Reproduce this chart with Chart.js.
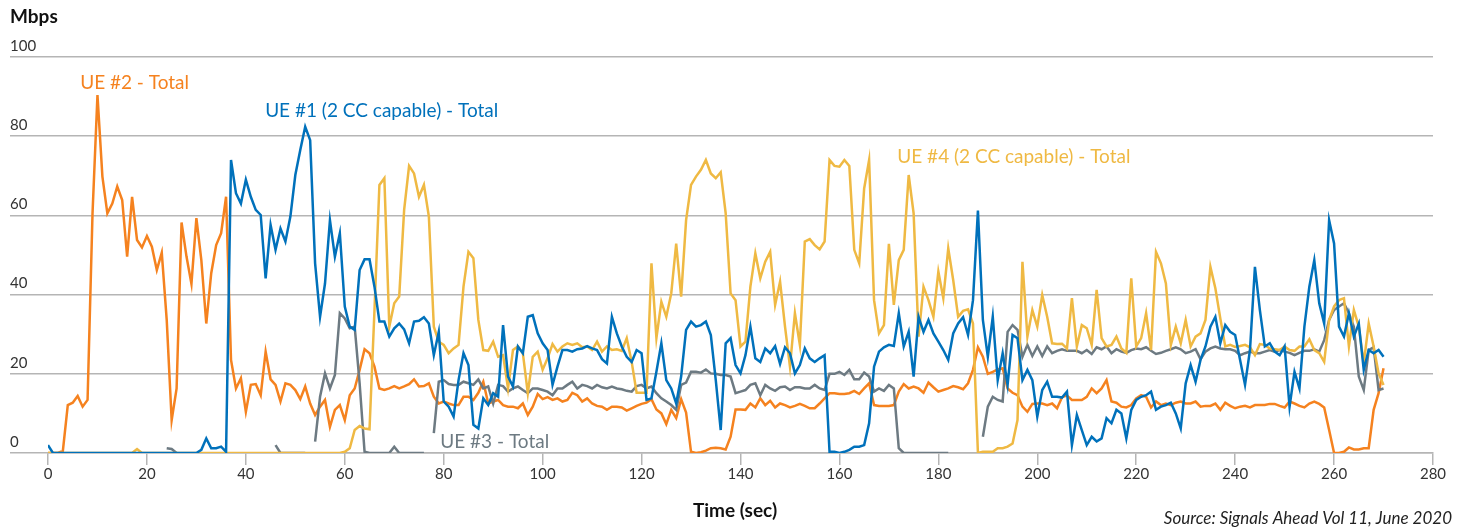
<!DOCTYPE html>
<html>
<head>
<meta charset="utf-8">
<script src="https://cdn.jsdelivr.net/npm/chart.js"></script>
<style>
  body { margin: 0; background: #fff; }
  canvas { display: block; }
</style>
</head>
<body>
<canvas id="myChart" width="1470" height="529"></canvas>
<script>
// time axis, one sample per second
const seconds = Array.from({ length: 271 }, (_, i) => i);

const xTicks = [0, 20, 40, 60, 80, 100, 120, 140, 160, 180, 200, 220, 240, 260, 280];
const yTicks = [0, 20, 40, 60, 80, 100];

// UE #1 (2 CC capable) - Total
const ue1 = [
  2, 0, 0, 0, 0, 0, 0, 0, 0, 0,
  0, 0, 0, 0, 0, 0, 0, 0, 0, 0,
  0, 0, 0, 0, 0, 0, 0, 0, 0, 0,
  0, 0.8, 3.7, 1.2, 1.2, 1.6, 0.3, 74, 65.6, 63,
  69, 64.7, 61.4, 60.1, 44.1, 57.6, 51.3, 56.7, 53.4, 59.7,
  70.2, 76.5, 82.4, 79, 47.9, 34.4, 42.8, 58.8, 49.6, 55.5,
  37, 31.9, 31.1, 46.2, 48.9, 48.9, 42, 33.2, 33.2, 29.4,
  31.5, 32.7, 31.2, 27.7, 33.2, 33.4, 34.3, 32.7, 24.7, 30.6,
  13, 11.7, 9.2, 18.4, 25.2, 22.2, 7.1, 6.2, 13.8, 12.1,
  15.1, 14.2, 32.3, 19.3, 16.8, 26.9, 25.2, 34.4, 34.8, 30.2,
  27.7, 26, 17.2, 21.8, 26, 26, 25.6, 26.2, 26.4, 27,
  26.4, 26, 23.7, 22.6, 34.4, 30.2, 26.9, 24.3, 23, 26,
  25.2, 13.4, 13.8, 20.5, 27.7, 18.4, 16.3, 12.5, 19.3, 31.1,
  33.2, 31.9, 32.3, 33.2, 29.8, 18.4, 5.8, 27.7, 29, 22.2,
  20.1, 24.7, 31.9, 23.9, 23, 26.4, 25.2, 27, 22.5, 26.7,
  25.2, 20.1, 22.2, 26.4, 23.9, 23, 23.9, 24.7, 0.3, 0.3,
  0, 0.3, 0.8, 1.6, 1.6, 2, 7.5, 21.8, 25.6, 26.7,
  27.3, 27, 35.3, 26.9, 30.6, 19.3, 34.4, 30.6, 33.6, 30.2,
  28.1, 26, 23.5, 30.2, 32.7, 34.3, 29.8, 38.6, 61.2, 33.6,
  24.3, 34.4, 18.4, 25.2, 17.2, 29.8, 29, 18.4, 21, 18.4,
  9.2, 15.9, 18, 14.2, 14.2, 14, 15.5, 2, 9.6, 5.8,
  2, 4.1, 2.9, 3.7, 8.8, 7.5, 10.9, 10, 3.7, 10.9,
  13.4, 14.2, 14.6, 15.5, 10.9, 11.7, 12.1, 12.7, 10, 6.2,
  17.6, 22.2, 18, 23.5, 26.9, 31.9, 34.4, 27.7, 32.3, 30.6,
  29.8, 23.5, 17.2, 26, 47, 36.1, 26.9, 27.7, 25.6, 24.7,
  26.9, 11.7, 20.5, 16.3, 31.9, 42, 48.7, 37.8, 32.7, 58.8,
  52.9, 31.9, 29.4, 35.3, 29.4, 32.7, 21, 26, 25.2, 26,
  24.3
];

// UE #2 - Total
const ue2 = [
  0, 0, 0, 0.5, 12.1, 12.7, 14.4, 11.7, 13.4, 60.5,
  90.4, 69.8, 60.5, 63, 67.3, 63.9, 49.6, 64.7, 53.8, 51.9,
  54.8, 52.1, 46.2, 50.6, 33.6, 8.3, 16.3, 58.2, 49.6, 42.7,
  59.3, 48.7, 32.7, 45.4, 52.5, 55.5, 64.7, 23.5, 16.3, 18.9,
  10.4, 17.2, 17.4, 14.6, 25.6, 18.6, 17.2, 13, 17.6, 17.2,
  15.9, 13.6, 16.8, 12.5, 9.6, 11.7, 13.4, 6.6, 10.9, 12.1,
  8.3, 14.6, 16.3, 21, 26.2, 25.2, 21.8, 16.3, 15.9, 16.3,
  16.9, 16.3, 16.8, 17.4, 18.6, 16.8, 16.9, 17.6, 14.2, 12.5,
  13, 12.5, 12.1, 12.1, 14.2, 14.2, 13.4, 15.2, 18, 12.5,
  13, 13.4, 12.1, 11.7, 11.7, 11.3, 12.5, 9.6, 11.7, 14.9,
  13.6, 14.1, 13.4, 13.8, 13, 13.4, 15.2, 14.6, 13, 13.8,
  12.5, 11.9, 11.7, 10.9, 11.7, 11.7, 11.5, 10.7, 11.3, 11.9,
  12.4, 12.7, 13.6, 11, 10, 7.3, 10.9, 8.8, 13.6, 10.2,
  0.3, 0, 0.2, 0.6, 1.2, 1.3, 1.2, 0.9, 4.1, 11,
  11, 10.9, 12.5, 11.5, 13.8, 12.1, 13.2, 11.5, 12.5, 12.1,
  11.5, 11.9, 12.4, 11.9, 11.3, 11.3, 12.5, 13.8, 15.1, 15.1,
  14.9, 14.9, 15.1, 15.7, 14.9, 16.3, 17.6, 12.1, 11.9, 11.9,
  11.9, 12.1, 15.5, 17.4, 16.3, 16.8, 16.3, 15.2, 17.8, 16.6,
  15.5, 15.9, 16.3, 16.9, 16.6, 16.1, 17.6, 21, 26.7, 24.3,
  20, 20.5, 21.1, 21.4, 16.3, 15.2, 14.6, 11.7, 10.4, 12.4,
  12.5, 12.5, 12.1, 12.5, 11.3, 14.1, 14.5, 13.4, 13.4, 13.4,
  14.2, 16.3, 15.1, 16.3, 18.4, 13, 12.7, 11.7, 11.5, 12.1,
  13.8, 14.6, 14.2, 11.5, 13, 12.1, 12.5, 12.1, 12.7, 13,
  12.5, 12.5, 13, 11.7, 11.9, 11.9, 12.5, 10.9, 12.7, 11.9,
  11.3, 11.7, 11.9, 11.5, 12.1, 12.1, 12.1, 12.4, 12.4, 11.9,
  11.5, 13, 12.5, 11.9, 11.5, 12.5, 13, 12.4, 11.5, 5.8,
  0, 0, 0.3, 1.4, 0.9, 0.9, 1.2, 1.2, 10.9, 15.1,
  21.4
];

// UE #3 - Total (null = no sample)
const ue3 = [
  null, null, null, null, null, null, null, null, null, null,
  null, null, null, null, null, null, null, null, null, null,
  null, null, null, null, 1.2, 1, 0, null, null, null,
  null, null, null, null, null, null, null, null, null, null,
  null, null, null, null, null, null, 2, 0, 0, 0,
  0, 0, 0, null, 2.9, 14.2, 20.1, 16.3, 19.7, 35.3,
  34, 31.5, 31.9, 17.6, 0.3, 0, 0, 0, 0, 0,
  1.6, 0, 0, 0, 0, 0, 0, null, 5, 18,
  18.4, 17.4, 17.2, 17.2, 18, 17.6, 17.2, 18.6, 16.3, 16.8,
  12.5, 17.2, 16.9, 15.5, 16.3, 16.8, 15.9, 15.1, 16.3, 16.3,
  15.9, 15.5, 14.6, 16.3, 16.3, 17.2, 18, 16.3, 17.2, 16.9,
  16.3, 17.2, 16.6, 16.3, 16.8, 16.3, 16.1, 15.7, 15.5, 16.9,
  17.2, 16.3, 16.8, 15.1, 13.8, 13, 12.1, 10.9, 17.2, 17.8,
  20.5, 20.5, 20.3, 21.1, 20.1, 20, 19.7, 19.7, 19.3, 15.1,
  15.5, 15.9, 17.2, 17.6, 14.6, 17.2, 16.3, 15.7, 16.6, 16.8,
  15.9, 16.6, 16.6, 16.3, 16.3, 17.2, 16.3, 15.9, 20, 20,
  20.5, 19.7, 21, 18.6, 18.6, 20.3, 19.3, 15.5, 16.3, 15.7,
  17.2, 16.3, 1.2, 0, 0, 0, 0, 0, 0, 0,
  0, 0, 0, null, null, null, null, null, null, 4.1,
  11.7, 14.2, 13.4, 13, 30.6, 32.3, 31.1, 24.3, 27.3, 24.5,
  26.9, 24.5, 26.9, 25.2, 25.8, 26.2, 25.8, 25.8, 25.8, 25.2,
  26, 25, 26.7, 26.2, 26.9, 25.2, 26.2, 25.6, 25.3, 26,
  26.4, 26.2, 26.7, 25.8, 25, 25.3, 25.8, 26.2, 26.7, 26.2,
  25.2, 25.6, 26.2, 23.7, 25.6, 26.4, 26.9, 26.4, 26.2, 26.2,
  25.8, 24.7, 25.2, 25.6, 25.2, 25.2, 25.6, 26, 25.6, 26,
  25.6, 25.3, 24.7, 25.3, 25.8, 25.8, 26.2, 25.6, 28.5, 33.6,
  36.1, 37, 37.8, 35.3, 31.9, 19.3, 15.9, 26, 26.7, 15.9,
  16.3
];

// UE #4 (2 CC capable) - Total
const ue4 = [
  0, 0, 0, 0, 0, 0, 0, 0, 0, 0,
  0, 0, 0, 0, 0, 0, 0, 0, 1, 0,
  0, 0, 0, 0, 0, 0, 0, 0, 0, 0,
  0, 0, 0, 0, 0, 0, 0, 0, 0, 0,
  0, 0, 0, 0, 0, 0, 0, 0, 0, 0,
  0, 0, 0, 0, 0, 0, 0, 0, 0, 0,
  0.3, 1.2, 5.8, 6.8, 6.2, 6, 36, 67.7, 69.4, 31.9,
  37.8, 39.5, 61.4, 72.5, 70.6, 64.7, 67.7, 59.7, 31.9, 28.1,
  27.3, 25.2, 26.4, 27.3, 42, 50.8, 49.2, 33.6, 26, 25.8,
  28.1, 24.3, 24.7, 16.3, 26, 26.9, 25.2, 15.1, 24.3, 25.6,
  21, 23.9, 27.5, 25.6, 26.9, 27.7, 27.3, 27.7, 26.7, 26.9,
  26, 28.1, 25.6, 26.9, 26, 26.2, 25.8, 29, 23, 15.2,
  15.2, 15.2, 47.9, 29, 38.2, 34.4, 40.3, 52.9, 39.5, 58.8,
  67.7, 69.8, 71.5, 74, 70.6, 69.4, 70.9, 60.6, 40.3, 38.6,
  26.9, 28.1, 42, 50.4, 44.1, 48.3, 50.8, 37.4, 43.3, 31.9,
  21.8, 35.3, 27.3, 53.4, 54, 52.5, 51.4, 53.4, 74, 72.5,
  72.3, 74, 72.5, 51.3, 47.9, 66.8, 74, 38.6, 30.2, 32.3,
  52.8, 37.4, 48.7, 51.3, 70.2, 60.5, 29.4, 42, 38.6, 34.4,
  45.8, 39.1, 51.7, 43.7, 34.4, 35.9, 36.3, 32.7, 0, 0.3,
  0.3, 0.3, 1.2, 1.2, 1.6, 2.4, 8.3, 48.3, 29.4, 36.1,
  31.9, 39.9, 34.4, 27.7, 27.5, 27.6, 26.4, 39.1, 26.9, 32.3,
  31.5, 27.3, 41.2, 29, 26.9, 27.3, 29.4, 26.4, 25.3, 44.1,
  26.9, 29, 35.3, 26, 50.8, 47.9, 42.8, 27.3, 31.9, 27.7,
  33.6, 26.9, 29.4, 30.2, 33.6, 47, 41.6, 34, 26.9, 27.3,
  26.8, 27, 27.3, 26.7, 24.7, 27.5, 27.3, 26.4, 26.2, 26,
  26.9, 26, 25.8, 26.9, 26.9, 28.7, 26, 25.2, 23, 33.6,
  37, 38.6, 39.1, 26.9, 36.1, 31.9, 22.6, 32.7, 26.9, 20.1,
  17.2
];

const blue = '#0071bb';
const orange = '#f5821f';
const grey = '#6d7a82';
const yellow = '#efb943';
const gridColor = '#b5b5b5';
const textColor = '#333333';

// series captions placed in data coordinates (seconds, Mbps)
const captions = [
  { text: 'UE #2 - Total', t: 6.5, v: 93.4, color: orange },
  { text: 'UE #1 (2 CC capable) - Total', t: 43.9, v: 86.4, color: blue },
  { text: 'UE #4 (2 CC capable) - Total', t: 171.7, v: 74.7, color: yellow },
  { text: 'UE #3 - Total', t: 79.3, v: 2.8, color: grey }
];

function toPoints(values) {
  return seconds.map((s, i) => ({ x: s, y: values[i] }));
}

function lineSet(label, values, color) {
  return {
    label: label,
    data: toPoints(values),
    borderColor: color,
    backgroundColor: color,
    borderWidth: 2.5,
    pointRadius: 0,
    tension: 0,
    spanGaps: false,
    fill: false
  };
}

const textPlugin = {
  id: 'texts',
  afterDraw(chart) {
    const ctx = chart.ctx;
    const x = chart.scales.x;
    const y = chart.scales.y;
    ctx.save();
    ctx.textBaseline = 'middle';

    ctx.fillStyle = '#111';
    ctx.textAlign = 'left';
    ctx.font = 'bold 19px Lato';
    ctx.fillText('Mbps', 10, 17);

    ctx.textAlign = 'center';
    ctx.font = 'bold 19px Lato';
    ctx.fillText('Time (sec)', 735, 511);

    ctx.textAlign = 'right';
    ctx.fillStyle = '#222';
    ctx.font = 'italic 17px Lato';
    ctx.fillText('Source: Signals Ahead Vol 11, June 2020', 1452, 519);

    ctx.textAlign = 'left';
    ctx.font = '19px Lato';
    captions.forEach(c => {
      ctx.fillStyle = c.color;
      ctx.fillText(c.text, x.getPixelForValue(c.t), y.getPixelForValue(c.v));
    });
    ctx.restore();
  }
};

const ctx = document.getElementById('myChart');
const myChart = new Chart(ctx, {
  type: 'line',
  data: {
    datasets: [
      lineSet('UE #1 (2 CC capable) - Total', ue1, blue),
      lineSet('UE #4 (2 CC capable) - Total', ue4, yellow),
      lineSet('UE #3 - Total', ue3, grey),
      lineSet('UE #2 - Total', ue2, orange)
    ]
  },
  options: {
    responsive: false,
    animation: false,
    layout: { padding: { left: 10, top: 57, right: 37, bottom: 0 } },
    plugins: {
      legend: { display: false },
      tooltip: { enabled: false }
    },
    scales: {
      x: {
        type: 'linear',
        min: 0,
        max: 280,
        afterBuildTicks: scale => { scale.ticks = xTicks.map(v => ({ value: v })); },
        afterFit: scale => { scale.height = 76; },
        ticks: {
          color: textColor,
          font: { family: 'Lato', size: 15 },
          padding: 0,
          maxRotation: 0,
          autoSkip: false
        },
        grid: { drawOnChartArea: false, drawTicks: true, tickLength: 12, color: gridColor, lineWidth: 1.5 },
        border: { display: true, color: gridColor, width: 1.5 }
      },
      y: {
        min: 0,
        max: 100,
        afterBuildTicks: scale => { scale.ticks = yTicks.map(v => ({ value: v })); },
        afterFit: scale => { scale.width = 38; },
        ticks: {
          color: textColor,
          font: { family: 'Lato', size: 15 },
          crossAlign: 'far',
          labelOffset: -11,
          padding: 0
        },
        grid: { color: gridColor, lineWidth: 1.5, tickLength: 38, drawTicks: true },
        border: { display: false }
      }
    }
  },
  plugins: [textPlugin]
});
</script>
</body>
</html>
